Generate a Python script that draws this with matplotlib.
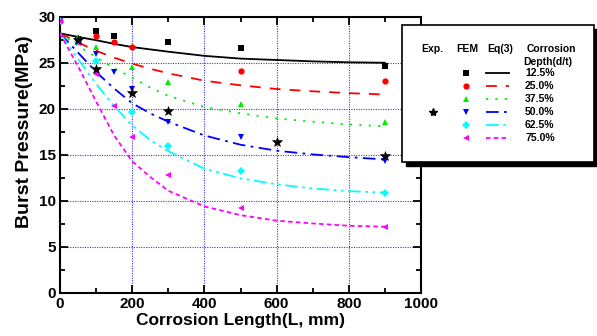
import matplotlib
matplotlib.use("Agg")
import matplotlib.pyplot as plt
from matplotlib.patches import Rectangle
from matplotlib.lines import Line2D

plt.rcParams['font.family'] = ['Liberation Sans', 'DejaVu Sans']
plt.rcParams['font.weight'] = 'bold'

# ---- data ----
depth_labels = ["12.5%", "25.0%", "37.5%", "50.0%", "62.5%", "75.0%"]
colors = ["black", "red", "#00ee00", "blue", "cyan", "magenta"]

# Eq(3) curves
eq_x = [0, 50, 100, 150, 200, 250, 300, 400, 500, 600, 700, 800, 900]
eq_125 = [28.2, 27.8, 27.45, 27.05, 26.7, 26.45, 26.2, 25.75, 25.45, 25.3, 25.15, 25.05, 25.0]
eq_250 = [28.2, 27.2, 26.3, 25.55, 24.9, 24.35, 23.85, 23.05, 22.55, 22.15, 21.9, 21.7, 21.55]
eq_375 = [28.2, 26.85, 25.6, 24.4, 23.4, 22.3, 21.4, 20.2, 19.5, 18.95, 18.6, 18.3, 18.1]
eq_500 = [28.2, 26.1, 24.0, 22.2, 20.6, 19.5, 18.6, 17.1, 16.1, 15.45, 15.05, 14.75, 14.5]
eq_625 = [28.2, 25.4, 22.7, 20.3, 18.2, 16.6, 15.4, 13.5, 12.45, 11.8, 11.35, 11.06, 10.9]
eq_750 = [28.2, 24.6, 20.8, 17.1, 14.3, 12.6, 11.1, 9.4, 8.45, 7.85, 7.55, 7.3, 7.2]
eq_series = [eq_125, eq_250, eq_375, eq_500, eq_625, eq_750]

# FEM points
fem_x_125 = [0, 50, 100, 150, 300, 500, 900]
fem_y_125 = [29.5, 27.6, 28.5, 27.9, 27.3, 26.6, 24.65]
fem_x_250 = [0, 50, 100, 150, 200, 500, 900]
fem_y_250 = [29.5, 27.4, 27.9, 27.2, 26.7, 24.15, 23.07]
fem_x_375 = [0, 50, 100, 200, 300, 500, 900]
fem_y_375 = [29.5, 27.8, 26.7, 24.5, 22.9, 20.5, 18.6]
fem_x_500 = [0, 50, 100, 150, 200, 300, 500, 900]
fem_y_500 = [29.5, 27.3, 26.0, 24.0, 22.1, 18.6, 16.9, 14.3]
fem_x_625 = [0, 50, 100, 200, 300, 500, 900]
fem_y_625 = [29.5, 27.2, 25.2, 19.7, 16.0, 13.2, 10.9]
fem_x_750 = [0, 50, 100, 150, 200, 300, 500, 900]
fem_y_750 = [29.5, 27.1, 23.8, 20.3, 16.9, 12.8, 9.25, 7.2]
fem_x = [fem_x_125, fem_x_250, fem_x_375, fem_x_500, fem_x_625, fem_x_750]
fem_y = [fem_y_125, fem_y_250, fem_y_375, fem_y_500, fem_y_625, fem_y_750]
fem_markers = ["s", "o", "^", "v", "D", "<"]

# Experimental (50% depth)
exp_x = [50, 100, 200, 300, 600, 900]
exp_y = [27.5, 24.3, 21.7, 19.8, 16.4, 14.9]

x_ticks = [0, 200, 400, 600, 800, 1000]
y_ticks = [0, 5, 10, 15, 20, 25, 30]

linestyles = [
    "-",
    (0, (6, 5)),
    (0, (1.2, 4)),
    (0, (7, 3, 1.5, 3)),
    (0, (7, 2.5, 1.5, 2.5, 1.5, 2.5)),
    (0, (2.5, 1.8)),
]

W, H = 597, 336
fig = plt.figure(figsize=(W / 100, H / 100), dpi=100)
ax = fig.add_axes([60 / W, (H - 293) / H, (421 - 60) / W, (293 - 16.7) / H])

for ys, c, ls in zip(eq_series, colors, linestyles):
    ax.plot(eq_x, ys, color=c, linestyle=ls, linewidth=1.3, zorder=3)
for xs, ys, c, m in zip(fem_x, fem_y, colors, fem_markers):
    ax.plot(xs, ys, linestyle="none", marker=m, color=c, markersize=4.5 if m != "D" else 4,
            markeredgewidth=0, zorder=4)
ax.plot(exp_x, exp_y, linestyle="none", marker="*", color="black", markersize=7.5,
        markeredgewidth=0.4, markeredgecolor="black", zorder=5)

ax.set_xlim(0, 1000)
ax.set_ylim(0, 30)
ax.set_xticks(x_ticks)
ax.set_yticks(y_ticks)
ax.set_xticks(range(100, 1000, 200), minor=True)
ax.set_yticks([2.5 + 5 * i for i in range(6)], minor=True)
ax.grid(True, which="major", color="blue", linestyle=(0, (1, 1.2)), linewidth=0.8, alpha=0.8)
ax.tick_params(which="both", direction="in", top=True, right=True, width=1.3)
ax.tick_params(which="major", length=6, labelsize=11, pad=3)
ax.tick_params(which="minor", length=3.5)
for lab in ax.get_xticklabels() + ax.get_yticklabels():
    lab.set_fontweight("bold")
for s in ax.spines.values():
    s.set_linewidth(1.5)
ax.set_xlabel("Corrosion Length(L, mm)", fontsize=12.5, fontweight="bold", labelpad=1)
ax.set_ylabel("Burst Pressure(MPa)", fontsize=14, fontweight="bold")
ax.yaxis.set_label_coords(-0.074, 0.585)

# ---- custom legend box ----
lax = fig.add_axes([0, 0, 1, 1], facecolor="none")
lax.set_xlim(0, W)
lax.set_ylim(H, 0)
lax.axis("off")
bx0, by0, bx1, by1 = 401.7, 25, 594, 161.7
lax.add_patch(Rectangle((bx0 + 4, by0 + 4), bx1 - bx0, by1 - by0, facecolor="black",
                        edgecolor="black", zorder=1))
lax.add_patch(Rectangle((bx0, by0), bx1 - bx0, by1 - by0, facecolor="white",
                        edgecolor="black", linewidth=1.2, zorder=2))
fs = 7.5
lax.text(432.7, 49.3, "Exp.", ha="center", va="center", fontsize=fs, fontweight="bold", zorder=3)
lax.text(467, 49.3, "FEM", ha="center", va="center", fontsize=fs, fontweight="bold", zorder=3)
lax.text(500, 49.3, "Eq(3)", ha="center", va="center", fontsize=fs, fontweight="bold", zorder=3)
lax.text(551, 49.3, "Corrosion", ha="center", va="center", fontsize=fs, fontweight="bold", zorder=3)
lax.text(548, 61.7, "Depth(d/t)", ha="center", va="center", fontsize=fs, fontweight="bold", zorder=3)
row_y0, row_dy = 73.3, 13.0
for i, (lab, c, m, ls) in enumerate(zip(depth_labels, colors, fem_markers, linestyles)):
    yy = row_y0 + i * row_dy
    lax.add_line(Line2D([466], [yy], marker=m, color=c, markersize=4.5 if m != "D" else 4,
                        markeredgewidth=0, linestyle="none", zorder=3))
    lax.add_line(Line2D([486, 509], [yy, yy], color=c, linestyle=ls, linewidth=1.3, zorder=3))
    lax.text(525, yy, lab, ha="left", va="center", fontsize=fs, fontweight="bold", zorder=3)
lax.add_line(Line2D([432.7], [row_y0 + 3 * row_dy], marker="*", color="black", markersize=6,
                    linestyle="none", zorder=3))

fig.savefig("out.png", dpi=100)
